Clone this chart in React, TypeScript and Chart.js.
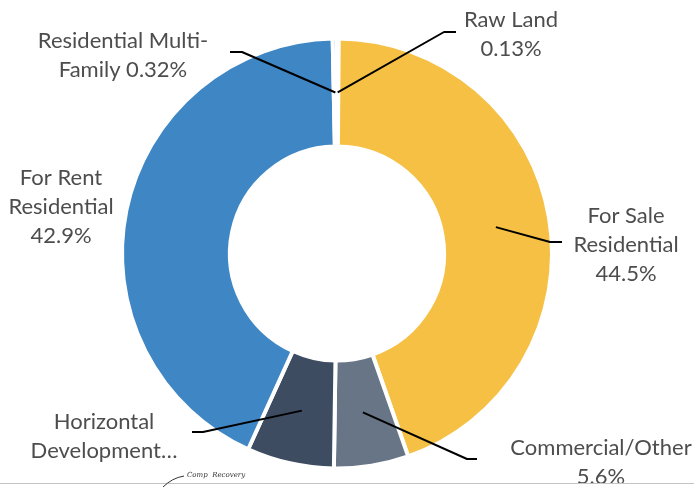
import React, { useEffect, useRef } from "react";
import { Chart, registerables } from "chart.js";

Chart.register(...registerables);

const categories = [
  "Raw Land",
  "For Sale Residential",
  "Commercial/Other",
  "Horizontal Development",
  "For Rent Residential",
  "Residential Multi-Family",
];
const values = [0.13, 44.5, 5.6, 6.55, 42.9, 0.32];
const colors = ["#A9B7C6", "#F5C044", "#677587", "#3E4C61", "#3F86C5", "#8DB7DF"];
const labelLines = [
  ["Raw Land", "0.13%"],
  ["For Sale", "Residential", "44.5%"],
  ["Commercial/Other", "5.6%"],
  ["Horizontal", "Development…"],
  ["For Rent", "Residential", "42.9%"],
  ["Residential Multi-", "Family 0.32%"],
];

// label layout: text center x, first line center y, leader end + elbow
const labelLayout = [
  { x: 511, y: 20, end: [456, 32], elbow: [444, 32] },
  { x: 626, y: 216, end: [562, 242], elbow: [550, 242] },
  { x: 601, y: 448, end: [477, 459], elbow: [467, 459] },
  { x: 104, y: 422, end: [192, 432], elbow: [203, 432] },
  { x: 61, y: 178, end: null, elbow: null },
  { x: 123, y: 41, end: [230, 52], elbow: [242, 52] },
];

const labelPlugin = {
  id: "leaderLabels",
  afterDatasetsDraw(chart: any) {
    const ctx = chart.ctx;
    const meta = chart.getDatasetMeta(0);
    ctx.save();
    // leader lines
    ctx.strokeStyle = "#000";
    ctx.lineWidth = 2;
    ctx.lineJoin = "round";
    meta.data.forEach((arc: any, i: number) => {
      const L = labelLayout[i];
      if (!L.end) return;
      const p = arc.tooltipPosition();
      ctx.beginPath();
      ctx.moveTo(p.x, p.y);
      ctx.lineTo(L.elbow[0], L.elbow[1]);
      ctx.lineTo(L.end[0], L.end[1]);
      ctx.stroke();
    });
    // texts
    ctx.fillStyle = "#4d4d4d";
    ctx.font = "22px Lato, 'Open Sans', sans-serif";
    ctx.textAlign = "center";
    ctx.textBaseline = "middle";
    labelLines.forEach((lines, i) => {
      const L = labelLayout[i];
      lines.forEach((t, j) => ctx.fillText(t, L.x, L.y + j * 29));
    });
    // bottom scan artifact
    ctx.strokeStyle = "#c4c4c4";
    ctx.lineWidth = 1;
    ctx.beginPath();
    ctx.moveTo(0, 483.5);
    ctx.lineTo(694, 483.5);
    ctx.stroke();
    ctx.strokeStyle = "#333";
    ctx.beginPath();
    ctx.moveTo(163, 487);
    ctx.quadraticCurveTo(172, 478, 184, 476);
    ctx.stroke();
    ctx.fillStyle = "#333";
    ctx.font = "italic 7px 'DejaVu Serif', serif";
    ctx.textAlign = "left";
    ctx.fillText("Comp  Recovery", 187, 475);
    ctx.restore();
  },
};

export default function App() {
  const ref = useRef<HTMLCanvasElement>(null);
  useEffect(() => {
    if (!ref.current) return;
    const chart = new Chart(ref.current, {
      type: "doughnut",
      data: {
        labels: categories,
        datasets: [
          {
            data: values,
            backgroundColor: colors,
            borderColor: "#ffffff",
            borderWidth: 4,
          },
        ],
      },
      options: {
        responsive: false,
        animation: false,
        cutout: "49.8%",
        layout: { padding: { top: 36.5, bottom: 16.5, left: 100, right: 120 } },
        plugins: {
          legend: { display: false },
          tooltip: { enabled: false },
        },
      },
      plugins: [labelPlugin],
    });
    return () => chart.destroy();
  }, []);
  return (
    <div style={{ position: "absolute", left: 0, top: 0, width: 694, height: 487, background: "#fff" }}>
      <canvas ref={ref} width={694} height={487} style={{ width: 694, height: 487 }} />
    </div>
  );
}
